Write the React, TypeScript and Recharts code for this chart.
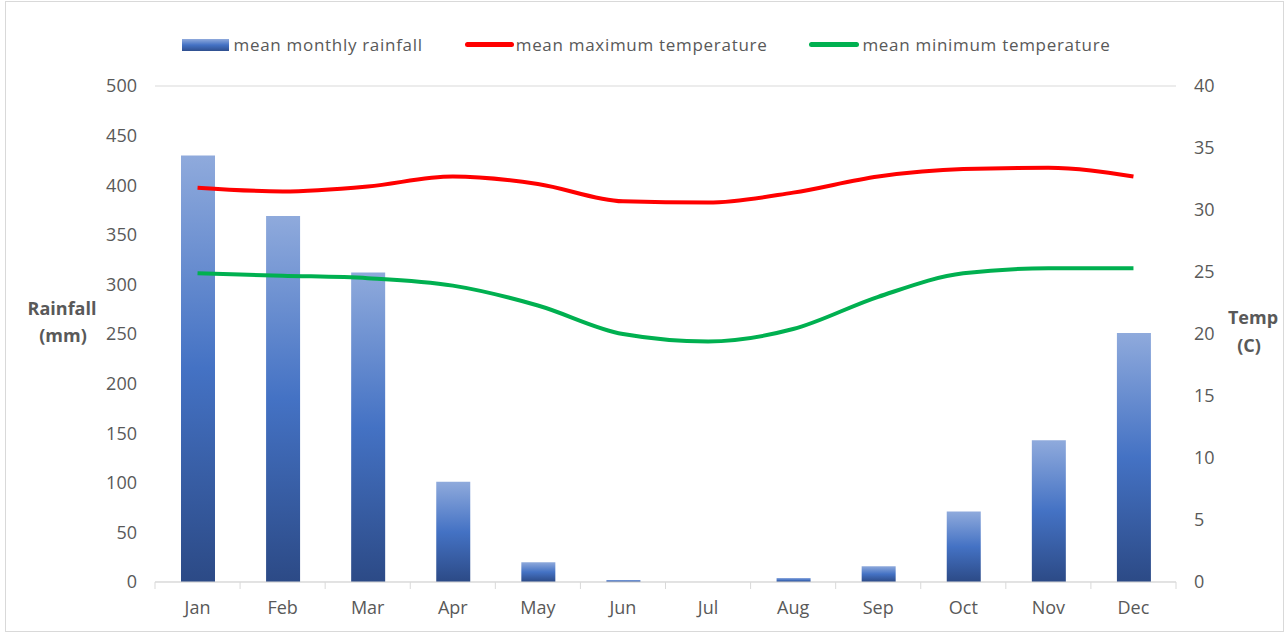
import { ComposedChart, Bar, Line, XAxis, YAxis, CartesianGrid } from "recharts";

const months = ["Jan", "Feb", "Mar", "Apr", "May", "Jun", "Jul", "Aug", "Sep", "Oct", "Nov", "Dec"];
const rainfall = [430, 369, 312, 101, 20, 2, 0, 4, 16, 71, 143, 251];
const maxTemp = [31.8, 31.5, 31.9, 32.7, 32.1, 30.7, 30.6, 31.4, 32.7, 33.3, 33.4, 32.7];
const minTemp = [24.9, 24.7, 24.5, 23.9, 22.3, 20.0, 19.4, 20.4, 23.0, 24.9, 25.3, 25.3];
const rainTicks = [0, 50, 100, 150, 200, 250, 300, 350, 400, 450, 500];
const tempTicks = [0, 5, 10, 15, 20, 25, 30, 35, 40];

const data = months.map((m, i) => ({
  month: m,
  rain: rainfall[i],
  tmax: maxTemp[i],
  tmin: minTemp[i],
}));

const W = 1287;
const H = 636;
const LEFT = 155;
const RIGHT = 1176;
const TOP = 86;
const BOTTOM = 582;
const band = (RIGHT - LEFT) / months.length;
const txt = "#595959";
const font = "'Open Sans', sans-serif";

// Excel-style ticks sit between categories, so draw them at the band edges
const MonthTick = (props: any) => {
  const { x, y, payload, index } = props;
  return (
    <g>
      <line x1={x - band / 2} y1={y} x2={x - band / 2} y2={y + 7} stroke="#d9d9d9" />
      {index === months.length - 1 && (
        <line x1={x + band / 2} y1={y} x2={x + band / 2} y2={y + 7} stroke="#d9d9d9" />
      )}
      <text x={x} y={y + 27} textAnchor="middle" dominantBaseline="middle" fill={txt} fontSize={18} fontFamily={font}>
        {payload.value}
      </text>
    </g>
  );
};

const LegendRow = () => (
  <div
    style={{
      position: "absolute",
      top: 33,
      left: 0,
      width: W,
      display: "flex",
      justifyContent: "center",
      gap: 42,
      fontFamily: font,
      fontSize: 17,
      letterSpacing: 0.7,
      color: txt,
      marginLeft: 3,
    }}
  >
    <div style={{ display: "flex", alignItems: "center" }}>
      <div
        style={{
          width: 47,
          height: 12,
          background: "linear-gradient(#8faadc, #4472c4, #2f4f8f)",
          marginRight: 4,
        }}
      />
      mean monthly rainfall
    </div>
    <div style={{ display: "flex", alignItems: "center" }}>
      <div style={{ width: 49, height: 5, borderRadius: 3, background: "#ff0000", marginRight: 2 }} />
      mean maximum temperature
    </div>
    <div style={{ display: "flex", alignItems: "center" }}>
      <div style={{ width: 50, height: 5, borderRadius: 3, background: "#00b050", marginRight: 3 }} />
      mean minimum temperature
    </div>
  </div>
);

export default function App() {
  return (
    <div style={{ position: "absolute", left: 0, top: 0, width: W, height: H, background: "#fff" }}>
      <div
        style={{
          position: "absolute",
          left: 5,
          top: 1,
          width: 1279,
          height: 631,
          border: "1px solid #d9d9d9",
          boxSizing: "border-box",
        }}
      />
      <LegendRow />
      <ComposedChart
        width={W}
        height={H}
        data={data}
        margin={{ top: TOP, right: 0, bottom: 0, left: 0 }}
        style={{ position: "absolute", left: 0, top: 0 }}
      >
        <defs>
          <linearGradient id="rainGrad" x1="0" y1="0" x2="0" y2="1">
            <stop offset="0%" stopColor="#8faadc" />
            <stop offset="50%" stopColor="#4472c4" />
            <stop offset="100%" stopColor="#2c4a86" />
          </linearGradient>
        </defs>
        <CartesianGrid vertical={false} stroke="#d9d9d9" />
        <XAxis
          dataKey="month"
          height={H - BOTTOM}
          axisLine={{ stroke: "#d9d9d9" }}
          tickLine={false}
          tickSize={0}
          tickMargin={0}
          tick={<MonthTick />}
          interval={0}
        />
        <YAxis
          yAxisId="rain"
          orientation="left"
          width={LEFT}
          domain={[0, 500]}
          ticks={rainTicks}
          axisLine={false}
          tickLine={false}
          tickSize={0}
          tickMargin={18}
          tick={{ fill: txt, fontSize: 18, fontFamily: font }}
        />
        <YAxis
          yAxisId="temp"
          orientation="right"
          width={W - RIGHT}
          domain={[0, 40]}
          ticks={tempTicks}
          axisLine={false}
          tickLine={false}
          tickSize={0}
          tickMargin={18}
          tick={{ fill: txt, fontSize: 18, fontFamily: font }}
        />
        <Bar yAxisId="rain" dataKey="rain" fill="url(#rainGrad)" barSize={34} isAnimationActive={false} />
        <Line
          yAxisId="temp"
          type="monotone"
          dataKey="tmax"
          stroke="#ff0000"
          strokeWidth={4}
          dot={false}
          isAnimationActive={false}
        />
        <Line
          yAxisId="temp"
          type="monotone"
          dataKey="tmin"
          stroke="#00b050"
          strokeWidth={4}
          dot={false}
          isAnimationActive={false}
        />
        <text x={62} y={310} textAnchor="middle" dominantBaseline="middle" fill={txt} fontSize={18} fontWeight="bold" fontFamily={font}>
          Rainfall
        </text>
        <text x={63} y={337} textAnchor="middle" dominantBaseline="middle" fill={txt} fontSize={18} fontWeight="bold" fontFamily={font}>
          (mm)
        </text>
        <text x={1253} y={319} textAnchor="middle" dominantBaseline="middle" fill={txt} fontSize={18} fontWeight="bold" fontFamily={font}>
          Temp
        </text>
        <text x={1249} y={347} textAnchor="middle" dominantBaseline="middle" fill={txt} fontSize={18} fontWeight="bold" fontFamily={font}>
          (C)
        </text>
      </ComposedChart>
    </div>
  );
}
